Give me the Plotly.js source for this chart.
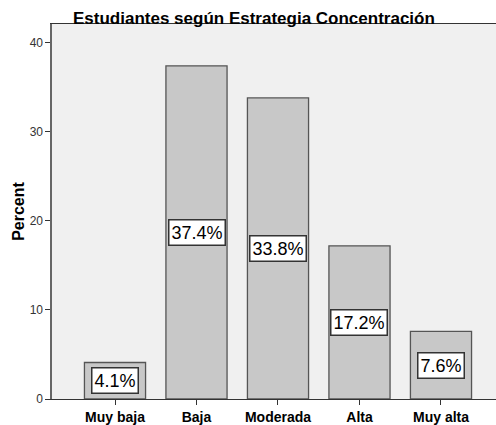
<!DOCTYPE html>
<html>
<head>
<meta charset="utf-8">
<script src="https://cdn.plot.ly/plotly-3.0.1.min.js"></script>
<style>html,body{margin:0;padding:0;background:#fff;}#chart{width:496px;height:425px;}</style>
</head>
<body>
<div id="chart"></div>
<script>
const categories = ["Muy baja", "Baja", "Moderada", "Alta", "Muy alta"];
const percents = [4.1, 37.4, 33.8, 17.2, 7.6];
const labels = ["4.1%", "37.4%", "33.8%", "17.2%", "7.6%"];
const yTicks = [0, 10, 20, 30, 40];

const trace = {
  type: "bar",
  x: categories,
  y: percents,
  marker: {color: "#c8c8c8", line: {color: "#555555", width: 1.3}},
  hoverinfo: "none"
};

const annotations = categories.map((c, i) => ({
  x: c, y: percents[i] / 2, xref: "x", yref: "y",
  text: labels[i], showarrow: false,
  font: {family: "Liberation Sans, Arial, sans-serif", size: 18, color: "#000"},
  bgcolor: "#ffffff", bordercolor: "#333333", borderwidth: 1.5, borderpad: 2
}));

const layout = {
  width: 496, height: 425,
  margin: {l: 52, r: 0, t: 24, b: 26},
  paper_bgcolor: "#ffffff",
  plot_bgcolor: "#f0f0f0",
  bargap: 0.25,
  showlegend: false,
  title: {
    text: "Estudiantes según Estrategia Concentración",
    font: {family: "Liberation Sans, Arial, sans-serif", size: 17, color: "#000", weight: "bold"},
    x: 0.512, xref: "container", xanchor: "center",
    y: 0.957, yref: "container", yanchor: "middle"
  },
  xaxis: {
    type: "category",
    range: [-0.773, 4.675],
    showline: true, linecolor: "#333", linewidth: 1, mirror: true,
    ticks: "outside", ticklen: 5, tickcolor: "#333",
    showgrid: false, zeroline: false,
    tickfont: {family: "Liberation Sans, Arial, sans-serif", size: 14, color: "#000", weight: "bold"}
  },
  yaxis: {
    range: [0, 42.1],
    tickvals: yTicks,
    showline: true, linecolor: "#666", linewidth: 1.6,
    ticks: "outside", ticklen: 5, tickcolor: "#333",
    showgrid: false, zeroline: false,
    tickfont: {family: "Liberation Sans, Arial, sans-serif", size: 12, color: "#333"},
    title: {text: "Percent", standoff: 1,
      font: {family: "Liberation Sans, Arial, sans-serif", size: 16, color: "#000", weight: "bold"}}
  },
  annotations: annotations
};

Plotly.newPlot("chart", [trace], layout, {staticPlot: true, displayModeBar: false});
</script>
</body>
</html>
